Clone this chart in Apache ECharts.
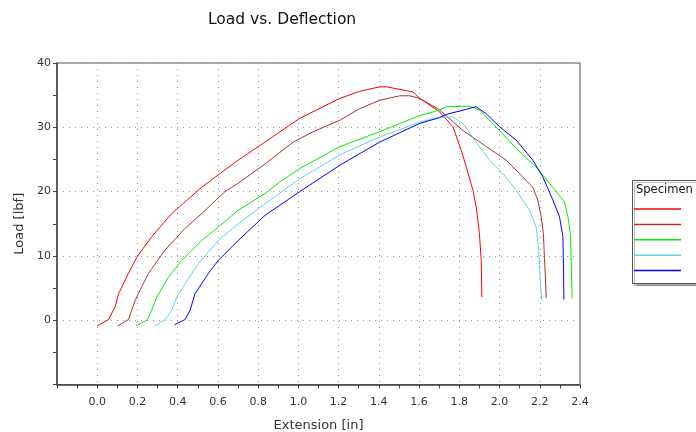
<!DOCTYPE html>
<html><head><meta charset="utf-8">
<script src="https://cdn.jsdelivr.net/npm/echarts@6/dist/echarts.min.js"></script>
<style>html,body{margin:0;padding:0;background:#fff}#c{width:696px;height:432px}</style>
</head><body><div id="c"></div>
<script>
const specimenNames = ['1','2','3','4','5'];
const seriesColors = ['#ff0000','#aa3333','#00ee00','#5fd8d8','#0000ff'];
const spec1 = [[0.000,-0.9],[0.056,0.1],[0.089,2.1],[0.106,4.1],[0.155,7.3],[0.197,9.8],[0.222,10.9],[0.271,13.0],[0.371,16.6],[0.437,18.4],[0.520,20.7],[0.602,22.6],[0.701,24.9],[0.834,27.7],[1.007,31.4],[1.206,34.5],[1.305,35.6],[1.404,36.3],[1.438,36.3],[1.504,35.9],[1.570,35.5],[1.603,34.5],[1.702,32.4],[1.768,30.1],[1.810,26.4],[1.835,23.8],[1.868,20.2],[1.884,17.6],[1.900,13.5],[1.909,9.3],[1.912,3.6]];
const spec2 = [[0.101,-0.9],[0.155,0.1],[0.189,3.1],[0.213,4.7],[0.255,7.3],[0.337,10.9],[0.437,14.3],[0.520,16.6],[0.635,20.0],[0.701,21.3],[0.834,24.3],[0.974,27.7],[1.073,29.3],[1.206,31.1],[1.305,32.9],[1.404,34.2],[1.504,34.9],[1.553,34.9],[1.603,34.5],[1.702,32.7],[1.818,29.5],[1.934,27.0],[2.033,24.9],[2.099,22.8],[2.165,20.7],[2.190,18.7],[2.207,16.1],[2.218,13.5],[2.223,9.8],[2.228,6.7],[2.232,3.4]];
const spec3 = [[0.192,-0.9],[0.247,0.0],[0.271,1.6],[0.296,3.6],[0.354,6.7],[0.420,9.3],[0.520,12.4],[0.602,14.5],[0.701,17.1],[0.834,19.7],[0.908,21.5],[1.007,23.6],[1.206,27.0],[1.404,29.3],[1.504,30.6],[1.603,31.8],[1.702,32.7],[1.735,33.2],[1.851,33.3],[1.900,32.7],[2.000,29.5],[2.083,26.7],[2.182,23.8],[2.248,21.3],[2.323,18.4],[2.340,16.1],[2.352,13.5],[2.356,9.3],[2.361,3.4]];
const spec4 = [[0.285,-0.9],[0.337,0.1],[0.371,1.6],[0.395,3.6],[0.437,5.7],[0.503,8.8],[0.602,12.4],[0.701,15.0],[0.834,18.1],[1.007,22.0],[1.206,25.7],[1.404,28.5],[1.603,30.8],[1.702,31.6],[1.768,31.6],[1.818,30.6],[1.900,27.0],[1.950,24.9],[2.017,22.8],[2.083,20.2],[2.149,17.1],[2.182,14.5],[2.195,10.9],[2.201,6.7],[2.210,3.1]];
const spec5 = [[0.384,-0.7],[0.437,0.1],[0.462,1.6],[0.486,4.1],[0.553,7.3],[0.602,9.3],[0.701,12.4],[0.834,16.3],[1.007,20.0],[1.206,24.1],[1.404,27.7],[1.603,30.6],[1.702,31.5],[1.735,32.0],[1.884,33.2],[1.934,32.1],[2.000,30.1],[2.083,28.0],[2.165,24.9],[2.215,22.3],[2.265,18.7],[2.298,16.1],[2.315,13.0],[2.318,7.8],[2.320,3.2]];
const allSpecs = [spec1, spec2, spec3, spec4, spec5];

const FONT = 'DejaVu Sans';
const chart = echarts.init(document.getElementById('c'), null, {renderer:'canvas', width:696, height:432});
const dotted = {type:[1,5], color:'#999', width:1};
chart.setOption({
  animation:false,
  title:{text:'Load vs. Deflection', left:203, top:7, textStyle:{fontFamily:FONT, fontSize:15.5, fontWeight:'normal', color:'#111'}},
  grid:{left:57, width:523, top:63, height:321.5, containLabel:false, outerBoundsMode:'none', show:true, borderColor:'#555', borderWidth:1},
  xAxis:{type:'value', min:-0.2, max:2.4, interval:0.2,
    name:'Extension [in]', nameLocation:'middle', nameGap:35,
    nameTextStyle:{fontFamily:FONT, fontSize:13, color:'#333'},
    axisLine:{onZero:false, lineStyle:{color:'#444', width:1.5}},
    axisTick:{show:true, length:4, lineStyle:{color:'#444'}},
    minorTick:{show:true, splitNumber:2, length:4, lineStyle:{color:'#444'}},
    axisLabel:{fontFamily:FONT, fontSize:11, color:'#333', margin:12,
      formatter:v=> v < -0.01 ? '' : v.toFixed(1)},
    splitLine:{show:true, lineStyle:dotted}},
  yAxis:{type:'value', min:-10, max:40, interval:10,
    name:'Load [lbf]', nameLocation:'middle', nameGap:30,
    nameTextStyle:{fontFamily:FONT, fontSize:13, color:'#333'},
    axisLine:{onZero:false, lineStyle:{color:'#444', width:1.5}},
    axisTick:{show:true, length:4, lineStyle:{color:'#444'}},
    minorTick:{show:true, splitNumber:2, length:4, lineStyle:{color:'#444'}},
    axisLabel:{fontFamily:FONT, fontSize:11, color:'#333', margin:6,
      formatter:v=> v < 0 ? '' : String(v)},
    splitLine:{show:true, lineStyle:dotted}},
  legend:{orient:'vertical', left:634, top:203.5, padding:0, icon:'rect', itemWidth:47, itemHeight:1.5, itemGap:4.4,
    data:specimenNames, textStyle:{fontFamily:FONT, fontSize:11, color:'#333', padding:[0,0,0,13]}},
  graphic:[
    {type:'rect', left:632, top:180, shape:{width:80, height:103}, z:-1,
      style:{fill:'#fff', stroke:'#555', lineWidth:1, shadowColor:'rgba(0,0,0,0.3)', shadowOffsetX:2, shadowOffsetY:2, shadowBlur:1}},
    {type:'text', left:636, top:184, style:{text:'Specimen #', fontFamily:FONT, fontSize:11.5, fill:'#111'}}
  ],
  series: allSpecs.map((d,i)=>({name:specimenNames[i], type:'line', data:d, symbol:'none', smooth:false,
    lineStyle:{color:seriesColors[i], width:1}, itemStyle:{color:seriesColors[i]}}))
});
</script></body></html>
